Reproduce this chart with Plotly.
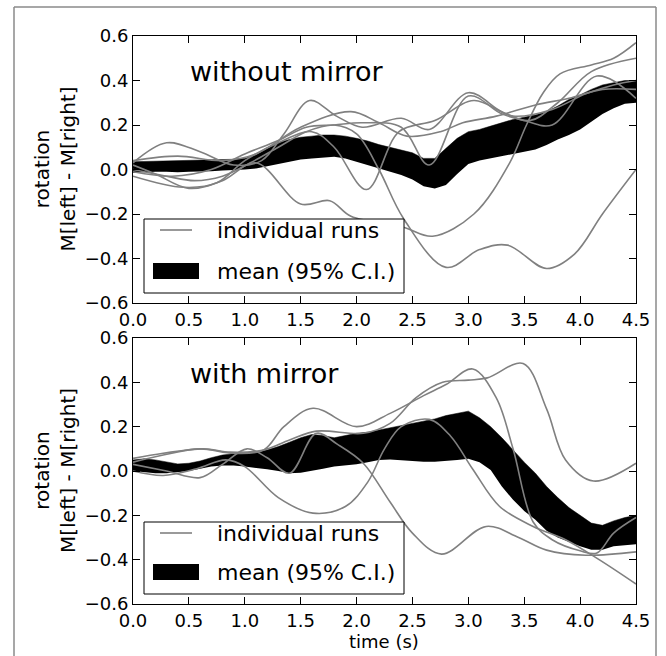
import plotly.graph_objects as go

# ---------------- data ----------------
T_BAND = [round(i * 0.1, 1) for i in range(46)]

TOP_BAND_UPPER = [0.035, 0.036, 0.037, 0.038, 0.040, 0.040, 0.041, 0.042, 0.044, 0.046,
                  0.050, 0.065, 0.095, 0.120, 0.135, 0.145, 0.150, 0.155, 0.155, 0.150,
                  0.140, 0.128, 0.112, 0.100, 0.090, 0.075, 0.050, 0.050, 0.095, 0.140,
                  0.170, 0.180, 0.195, 0.210, 0.225, 0.235, 0.245, 0.260, 0.285, 0.315,
                  0.335, 0.360, 0.380, 0.390, 0.400, 0.400]
TOP_BAND_LOWER = [-0.015, -0.012, -0.010, -0.010, -0.012, -0.010, -0.010, -0.008, -0.005, -0.003,
                  0.000, 0.005, 0.015, 0.025, 0.038, 0.045, 0.050, 0.055, 0.057, 0.050,
                  0.035, 0.020, 0.005, -0.010, -0.025, -0.045, -0.075, -0.085, -0.070, -0.020,
                  0.025, 0.040, 0.050, 0.060, 0.070, 0.080, 0.090, 0.110, 0.135, 0.155,
                  0.180, 0.215, 0.250, 0.275, 0.295, 0.300]

BOT_BAND_UPPER = [0.050, 0.055, 0.050, 0.040, 0.032, 0.035, 0.045, 0.060, 0.072, 0.078,
                  0.082, 0.085, 0.095, 0.110, 0.130, 0.150, 0.165, 0.160, 0.150, 0.160,
                  0.170, 0.175, 0.185, 0.195, 0.205, 0.215, 0.225, 0.235, 0.250, 0.260,
                  0.270, 0.240, 0.200, 0.150, 0.095, 0.040, -0.010, -0.070, -0.120, -0.165,
                  -0.200, -0.235, -0.245, -0.225, -0.210, -0.200]
BOT_BAND_LOWER = [0.000, -0.005, -0.010, -0.010, -0.005, 0.000, 0.010, 0.020, 0.025, 0.025,
                  0.020, 0.015, 0.008, 0.000, -0.010, -0.008, 0.000, 0.010, 0.020, 0.025,
                  0.030, 0.040, 0.050, 0.052, 0.048, 0.045, 0.042, 0.042, 0.045, 0.050,
                  0.055, 0.040, 0.005, -0.070, -0.130, -0.180, -0.220, -0.270, -0.300, -0.320,
                  -0.340, -0.355, -0.355, -0.340, -0.335, -0.330]

# individual runs, "without mirror"
TOP_A_T = [0, 0.3, 0.55, 0.8, 1.05, 1.3, 1.55, 1.8, 2.0, 2.2, 2.42, 2.8, 3.1, 3.35, 3.7, 3.95, 4.2, 4.5]
TOP_A_V = [0.00, -0.03, -0.05, -0.03, 0.03, 0.10, 0.17, 0.20, 0.16, 0.0, -0.22, -0.44, -0.36, -0.34, -0.445, -0.38, -0.20, 0.0]
TOP_B_T = [0, 0.2, 0.5, 0.8, 1.1, 1.5, 1.76, 1.95, 2.42, 2.68, 3.05, 3.37, 3.52, 3.67, 3.82, 4.1, 4.3, 4.5]
TOP_B_V = [0.02, -0.02, -0.085, -0.05, 0.03, -0.155, -0.14, -0.21, -0.26, -0.30, -0.20, 0.03, 0.20, 0.345, 0.43, 0.47, 0.50, 0.57]
TOP_C_T = [0, 0.3, 0.6, 0.9, 1.15, 1.35, 1.58, 1.82, 2.05, 2.4, 2.65, 3.0, 3.3, 3.55, 3.8, 4.1, 4.5]
TOP_C_V = [0.03, 0.12, 0.08, 0.02, 0.04, 0.16, 0.31, 0.24, 0.19, 0.23, 0.18, 0.345, 0.26, 0.22, 0.30, 0.44, 0.50]
TOP_D_T = [0, 0.35, 0.7, 1.0, 1.3, 1.55, 1.8, 2.05, 2.4, 2.65, 3.0, 3.3, 3.5, 3.75, 4.15, 4.5]
TOP_D_V = [-0.01, -0.03, 0.0, 0.07, 0.13, 0.19, 0.20, 0.21, 0.19, 0.02, 0.33, 0.25, 0.22, 0.20, 0.42, 0.32]
TOP_E_T = [0, 0.45, 0.75, 1.0, 1.3, 1.6, 1.8, 2.09, 2.38, 2.7, 3.05, 3.4, 3.75, 4.05, 4.3, 4.5]
TOP_E_V = [-0.03, -0.08, -0.06, 0.04, 0.12, 0.17, 0.10, -0.09, 0.17, 0.22, 0.31, 0.24, 0.27, 0.34, 0.38, 0.40]
TOP_F_T = [0, 0.4, 0.8, 1.1, 1.5, 1.95, 2.2, 2.45, 2.75, 2.95, 3.25, 3.6, 3.9, 4.2, 4.5]
TOP_F_V = [0.04, 0.06, 0.04, 0.07, 0.19, 0.26, 0.21, 0.15, 0.17, 0.21, 0.24, 0.29, 0.32, 0.36, 0.36]

# individual runs, "with mirror"
BOT_P_T = [0, 0.25, 0.6, 0.9, 1.17, 1.35, 1.61, 2.0, 2.3, 2.6, 2.8, 3.04, 3.25, 3.4, 3.58, 3.75, 4.0, 4.15, 4.3, 4.5]
BOT_P_V = [0.04, 0.07, 0.10, 0.08, 0.095, 0.20, 0.283, 0.20, 0.26, 0.34, 0.39, 0.46, 0.33, 0.10, -0.23, -0.31, -0.36, -0.37, -0.28, -0.21]
BOT_Q_T = [0, 0.27, 0.63, 0.87, 1.17, 1.4, 1.64, 2.06, 2.3, 2.53, 2.77, 3.0, 3.17, 3.49, 3.7, 3.87, 4.12, 4.5]
BOT_Q_V = [0.057, 0.08, 0.10, 0.085, 0.095, 0.14, 0.18, 0.17, 0.215, 0.33, 0.40, 0.41, 0.42, 0.485, 0.28, 0.05, -0.045, 0.035]
BOT_S_T = [0, 0.27, 0.57, 0.83, 1.0, 1.3, 1.61, 1.9, 2.1, 2.25, 2.4, 2.65, 2.84, 3.04, 3.28, 3.58, 3.87, 4.17, 4.5]
BOT_S_V = [0.0, -0.02, 0.01, 0.05, 0.02, -0.12, -0.19, -0.16, -0.05, 0.10, 0.20, 0.233, 0.158, 0.008, -0.16, -0.25, -0.31, -0.40, -0.51]
BOT_T_T = [0, 0.3, 0.6, 0.8, 1.02, 1.2, 1.4, 1.64, 1.83, 2.06, 2.3, 2.5, 2.76, 3.16, 3.45, 3.7, 4.05, 4.5]
BOT_T_V = [0.03, 0.0, -0.03, 0.03, 0.10, 0.06, -0.01, 0.17, 0.12, 0.035, -0.14, -0.28, -0.375, -0.25, -0.30, -0.357, -0.38, -0.365]

Y_TICKS = [-0.6, -0.4, -0.2, 0.0, 0.2, 0.4, 0.6]
Y_TICKTEXT = ["\u22120.6", "\u22120.4", "\u22120.2", "0.0", "0.2", "0.4", "0.6"]
X_TICKS = [0.0, 0.5, 1.0, 1.5, 2.0, 2.5, 3.0, 3.5, 4.0, 4.5]
X_TICKTEXT = ["0.0", "0.5", "1.0", "1.5", "2.0", "2.5", "3.0", "3.5", "4.0", "4.5"]

PANEL_TITLES = ["without mirror", "with mirror"]
LEGEND_LABELS = ["individual runs", "mean (95% C.I.)"]
Y_LABEL = "rotation<br>M[left] - M[right]"
X_LABEL = "time (s)"

# ---------------- figure ----------------
W, H = 666, 656
FONT = "DejaVu Sans"
GRAY = "#808080"
FRAME = "#8a8a8a"

def px_x(p):
    return p / W

def px_y(p):
    return 1 - p / H

fig = go.Figure()

panels = [
    ("x", "y", TOP_BAND_LOWER, TOP_BAND_UPPER,
     [(TOP_A_T, TOP_A_V), (TOP_B_T, TOP_B_V), (TOP_C_T, TOP_C_V),
      (TOP_D_T, TOP_D_V), (TOP_E_T, TOP_E_V), (TOP_F_T, TOP_F_V)]),
    ("x2", "y2", BOT_BAND_LOWER, BOT_BAND_UPPER,
     [(BOT_P_T, BOT_P_V), (BOT_Q_T, BOT_Q_V), (BOT_S_T, BOT_S_V), (BOT_T_T, BOT_T_V)]),
]

for xa, ya, lo, up, runs in panels:
    fig.add_trace(go.Scatter(x=T_BAND, y=lo, mode="lines", xaxis=xa, yaxis=ya,
                             line=dict(width=0, color="black"), showlegend=False,
                             hoverinfo="skip"))
    fig.add_trace(go.Scatter(x=T_BAND, y=up, mode="lines", xaxis=xa, yaxis=ya,
                             fill="tonexty", fillcolor="black",
                             line=dict(width=0.5, color="black"), showlegend=False,
                             name=LEGEND_LABELS[1]))
    for tt, vv in runs:
        fig.add_trace(go.Scatter(x=tt, y=vv, mode="lines", xaxis=xa, yaxis=ya,
                                 line=dict(color=GRAY, width=1.6, shape="spline", smoothing=1.0),
                                 showlegend=False, name=LEGEND_LABELS[0]))

X_DOM = [px_x(133), px_x(636)]
TOP_DOM = [px_y(303), px_y(36)]
BOT_DOM = [px_y(604), px_y(338)]

axis_common = dict(
    showline=True, linecolor="black", linewidth=1, mirror="allticks",
    ticks="inside", ticklen=7, tickwidth=1, tickcolor="black",
    showgrid=False, zeroline=False, automargin=False,
    tickfont=dict(family=FONT, size=18, color="black"),
)

fig.update_layout(
    width=W, height=H,
    margin=dict(l=0, r=0, t=0, b=0, pad=0, autoexpand=False),
    paper_bgcolor="white", plot_bgcolor="white",
    showlegend=False,
    font=dict(family=FONT, color="black"),
    xaxis=dict(domain=X_DOM, range=[0, 4.5], anchor="y",
               tickvals=X_TICKS, ticktext=X_TICKTEXT, **axis_common),
    yaxis=dict(domain=TOP_DOM, range=[-0.6, 0.6], anchor="x",
               tickvals=Y_TICKS, ticktext=Y_TICKTEXT, **axis_common),
    xaxis2=dict(domain=X_DOM, range=[0, 4.5], anchor="y2",
                tickvals=X_TICKS, ticktext=X_TICKTEXT, **axis_common),
    yaxis2=dict(domain=BOT_DOM, range=[-0.6, 0.6], anchor="x2",
                tickvals=Y_TICKS, ticktext=Y_TICKTEXT, **axis_common),
)

shapes = []
annotations = []

# outer figure frame (left, top, right edges; bottom runs off the page)
for x0, y0, x1, y1 in [(14, 7, 14, 656), (14, 7, 656, 7), (656, 7, 656, 656)]:
    shapes.append(dict(type="line", xref="paper", yref="paper",
                       x0=px_x(x0), x1=px_x(x1), y0=px_y(y0), y1=px_y(y1),
                       line=dict(color=FRAME, width=1.5), layer="above"))

# per-panel legend + title + y label
for i, (top, bottom, title_y) in enumerate([(219, 293, 72), (522, 594, 373)]):
    row1 = top + 11
    row2 = bottom - 22
    shapes.append(dict(type="rect", xref="paper", yref="paper",
                       x0=px_x(144), x1=px_x(404), y0=px_y(bottom), y1=px_y(top),
                       line=dict(color="black", width=1), fillcolor="white", layer="above"))
    shapes.append(dict(type="line", xref="paper", yref="paper",
                       x0=px_x(160), x1=px_x(192), y0=px_y(row1), y1=px_y(row1),
                       line=dict(color=GRAY, width=1.6), layer="above"))
    shapes.append(dict(type="rect", xref="paper", yref="paper",
                       x0=px_x(153), x1=px_x(199), y0=px_y(row2 + 8), y1=px_y(row2 - 8),
                       line=dict(width=0), fillcolor="black", layer="above"))
    annotations.append(dict(xref="paper", yref="paper", x=px_x(215), y=px_y(row1),
                            xanchor="left", yanchor="middle", showarrow=False,
                            text=LEGEND_LABELS[0], font=dict(family=FONT, size=22, color="black")))
    annotations.append(dict(xref="paper", yref="paper", x=px_x(215), y=px_y(row2),
                            xanchor="left", yanchor="middle", showarrow=False,
                            text=LEGEND_LABELS[1], font=dict(family=FONT, size=22, color="black")))
    annotations.append(dict(xref="paper", yref="paper", x=px_x(188), y=px_y(title_y),
                            xanchor="left", yanchor="middle", showarrow=False,
                            text=PANEL_TITLES[i], font=dict(family=FONT, size=27, color="black")))
    axis_mid = (36 + 303) / 2.0 if i == 0 else (338 + 604) / 2.0
    annotations.append(dict(xref="paper", yref="paper", x=px_x(55), y=px_y(axis_mid),
                            xanchor="center", yanchor="middle", showarrow=False,
                            textangle=-90, text=Y_LABEL,
                            font=dict(family=FONT, size=20, color="black")))

annotations.append(dict(xref="paper", yref="paper", x=px_x(384.5), y=px_y(641),
                        xanchor="center", yanchor="middle", showarrow=False,
                        text=X_LABEL, font=dict(family=FONT, size=18, color="black")))

fig.update_layout(shapes=shapes, annotations=annotations)

fig.write_html("out.html")
